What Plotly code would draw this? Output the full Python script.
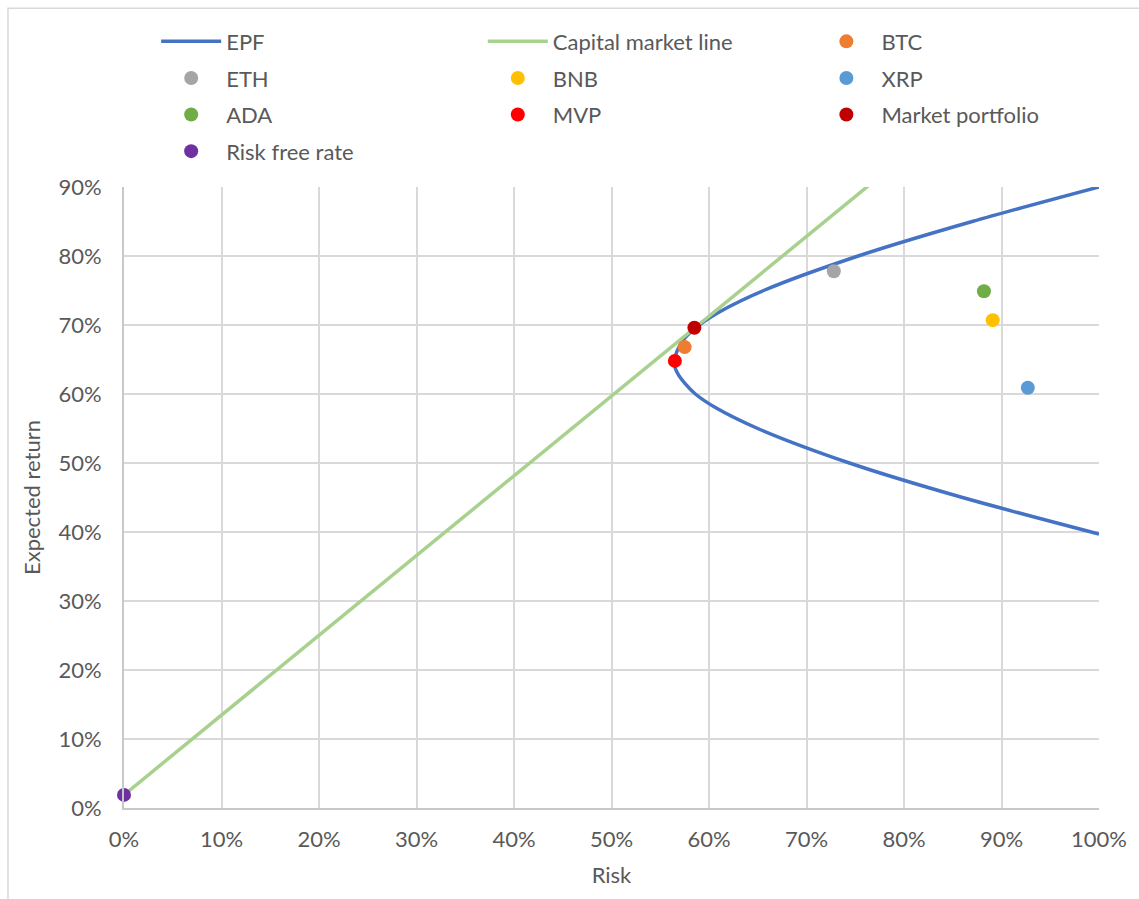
import plotly.graph_objects as go

# Efficient portfolio frontier (risk, expected return)
epf_risk = [1.000, 0.860, 0.744, 0.650, 0.607, 0.586, 0.5755, 0.569, 0.5655, 0.5645,
            0.5652, 0.5675, 0.5744, 0.590, 0.612, 0.656, 0.753, 0.870, 1.000]
epf_return = [0.397, 0.45, 0.50, 0.55, 0.58, 0.60, 0.615, 0.627, 0.637, 0.645,
              0.653, 0.663, 0.68, 0.70, 0.72, 0.75, 0.80, 0.85, 0.90]

# Capital market line: from the risk free rate through the market portfolio
cml_risk = [0.0, 0.80]
cml_return = [0.019, 0.944]

# Individual assets and special portfolios
point_names = ["BTC", "ETH", "BNB", "XRP", "ADA", "MVP", "Market portfolio", "Risk free rate"]
point_risk = [0.575, 0.728, 0.891, 0.927, 0.882, 0.565, 0.585, 0.0]
point_return = [0.668, 0.778, 0.707, 0.609, 0.749, 0.648, 0.696, 0.019]
point_colors = ["#ED7D31", "#A5A5A5", "#FFC000", "#5B9BD5", "#70AD47", "#FF0000", "#C00000", "#7030A0"]

# legend column for each named item
legend_of = {
    "EPF": "legend", "ETH": "legend", "ADA": "legend", "Risk free rate": "legend",
    "Capital market line": "legend2", "BNB": "legend2", "MVP": "legend2",
    "BTC": "legend3", "XRP": "legend3", "Market portfolio": "legend3",
}

FONT = "Lato, 'Open Sans', sans-serif"
GREY = "#595959"
FS = 22

fig = go.Figure()
fig.add_trace(go.Scatter(x=epf_risk, y=epf_return, mode="lines", name="EPF",
                         line=dict(color="#4472C4", width=3.5, shape="spline", smoothing=0.8),
                         legend=legend_of["EPF"], legendgroup="EPF"))
fig.add_trace(go.Scatter(x=cml_risk, y=cml_return, mode="lines", name="Capital market line",
                         line=dict(color="#A9D18E", width=3.5),
                         legend=legend_of["Capital market line"], legendgroup="CML"))
for n, xr, yr, c in zip(point_names, point_risk, point_return, point_colors):
    fig.add_trace(go.Scatter(x=[xr], y=[yr], mode="markers", name=n,
                             marker=dict(color=c, size=14, line=dict(width=0)),
                             legend=legend_of[n], legendgroup=n, cliponaxis=False))

legend_common = dict(font=dict(family=FONT, size=FS, color=GREY), bgcolor="rgba(0,0,0,0)",
                     orientation="v", yanchor="top", xanchor="left", tracegroupgap=5,
                     itemwidth=60)

fig.update_layout(
    width=1139, height=899,
    margin=dict(l=124, r=40, t=187, b=91),
    paper_bgcolor="white", plot_bgcolor="white",
    font=dict(family=FONT, size=FS, color=GREY),
    legend=dict(x=0.033, y=1.268, **legend_common),
    legend2=dict(x=0.368, y=1.268, **legend_common),
    legend3=dict(x=0.705, y=1.268, **legend_common),
    xaxis=dict(range=[0, 1], dtick=0.1, tickformat=".0%", showgrid=True,
               gridcolor="#D9D9D9", gridwidth=2, showline=True, linecolor="#C8C8C8",
               linewidth=2, zeroline=False, ticks="outside", ticklen=11,
               tickcolor="rgba(0,0,0,0)", tickfont=dict(size=FS, color=GREY),
               title=dict(text="Risk", font=dict(size=FS, color=GREY), standoff=16)),
    yaxis=dict(range=[0, 0.9], dtick=0.1, tickformat=".0%", showgrid=True,
               gridcolor="#D9D9D9", gridwidth=2, showline=True, linecolor="#C8C8C8",
               linewidth=2, zeroline=False, ticks="outside", ticklen=16,
               tickcolor="rgba(0,0,0,0)", tickfont=dict(size=FS, color=GREY),
               title=dict(text="Expected return", font=dict(size=FS, color=GREY), standoff=12)),
    shapes=[dict(type="rect", xref="paper", yref="paper", x0=-0.119, x1=1.2,
                 y0=-0.3, y1=1.288, line=dict(color="#D9D9D9", width=1.5),
                 fillcolor="rgba(0,0,0,0)", layer="below")],
)

fig.write_html("out.html")
